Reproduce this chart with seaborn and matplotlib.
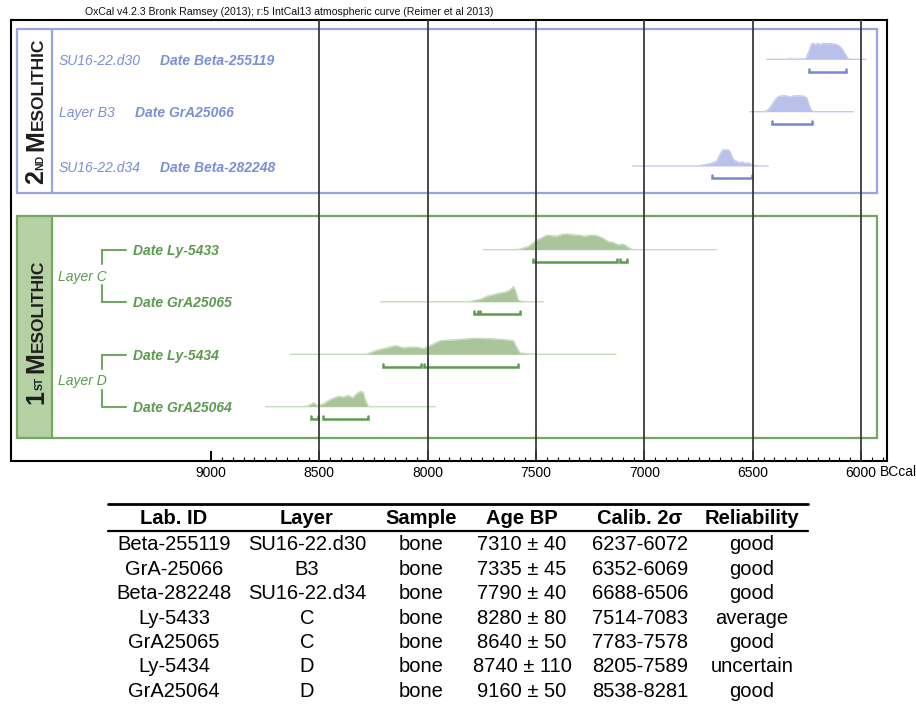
import numpy as np
import pandas as pd
import matplotlib
matplotlib.use("Agg")
import matplotlib.pyplot as plt
import seaborn as sns
from matplotlib.patches import Rectangle
from matplotlib.ticker import FixedLocator

sns.set_theme(style="white")
plt.rcParams['font.family'] = ['Liberation Sans', 'DejaVu Sans']

# ---------------- data ----------------
header_text = "OxCal v4.2.3 Bronk Ramsey (2013); r:5 IntCal13 atmospheric curve (Reimer et al 2013)"
date_labels = ["Date Beta-255119", "Date GrA25066", "Date Beta-282248",
               "Date Ly-5433", "Date GrA25065", "Date Ly-5434", "Date GrA25064"]
context_labels = ["SU16-22.d30", "Layer B3", "SU16-22.d34"]
layer_groups = ["Layer C", "Layer D"]
phase_of_row = ["2nd", "2nd", "2nd", "1st", "1st", "1st", "1st"]

# probability distributions (year BC, relative density)
yrs_beta255119 = [6435, 6335, 6327, 6318, 6255, 6240, 6228, 6220, 6212, 6198, 6190, 6175, 6160, 6140, 6115, 6097, 6083, 6070, 6060, 6050, 5977]
den_beta255119 = [0, 0, 0.06, 0, 0.03, 0.5, 0.95, 1.0, 0.9, 1.0, 0.9, 1.0, 0.97, 0.98, 0.92, 0.8, 0.55, 0.25, 0.05, 0, 0]
yrs_gra25066 = [6512, 6450, 6435, 6420, 6405, 6390, 6375, 6350, 6335, 6327, 6315, 6290, 6265, 6250, 6240, 6228, 6215, 6035]
den_gra25066 = [0, 0, 0.05, 0.25, 0.55, 0.85, 0.97, 1.0, 0.95, 0.9, 0.97, 1.0, 0.97, 0.85, 0.4, 0.05, 0, 0]
yrs_beta282248 = [7055, 6760, 6743, 6693, 6666, 6650, 6638, 6615, 6604, 6592, 6578, 6560, 6545, 6535, 6522, 6506, 6485, 6470, 6428]
den_beta282248 = [0, 0, 0.02, 0.15, 0.3, 0.75, 1.0, 1.0, 0.9, 0.45, 0.3, 0.2, 0.25, 0.15, 0.2, 0.08, 0.02, 0, 0]
yrs_ly5433 = [7745, 7600, 7581, 7535, 7496, 7450, 7430, 7404, 7380, 7357, 7330, 7311, 7273, 7250, 7235, 7212, 7189, 7166, 7143, 7119, 7096, 7081, 7058, 7040, 6666]
den_ly5433 = [0, 0, 0.02, 0.2, 0.6, 0.9, 0.88, 0.85, 0.95, 1.0, 0.93, 0.92, 0.85, 0.9, 0.9, 0.85, 0.7, 0.5, 0.45, 0.3, 0.35, 0.2, 0.02, 0, 0]
yrs_gra25065 = [8219, 7820, 7803, 7757, 7726, 7696, 7665, 7642, 7619, 7603, 7591, 7581, 7565, 7550, 7465]
den_gra25065 = [0, 0, 0.02, 0.15, 0.35, 0.45, 0.55, 0.6, 0.75, 0.95, 0.55, 0.1, 0.02, 0, 0]
yrs_ly5434 = [8634, 8300, 8280, 8234, 8188, 8149, 8111, 8080, 8049, 8019, 7988, 7942, 7881, 7788, 7696, 7634, 7604, 7588, 7573, 7526, 7500, 7131]
den_ly5434 = [0, 0, 0.02, 0.25, 0.4, 0.55, 0.4, 0.45, 0.45, 0.35, 0.55, 0.85, 0.9, 1.0, 0.97, 0.9, 0.85, 0.4, 0.08, 0.02, 0, 0]
yrs_gra25064 = [8749, 8575, 8557, 8526, 8509, 8486, 8449, 8412, 8389, 8366, 8347, 8324, 8310, 8297, 8288, 8274, 8260, 7965]
den_gra25064 = [0, 0, 0.02, 0.25, 0.05, 0.15, 0.45, 0.65, 0.6, 0.7, 0.55, 0.85, 0.95, 0.9, 0.4, 0.03, 0, 0]

# 95.4% ranges (year BC from, to)
ranges_beta255119 = [(6240, 6069)]
ranges_gra25066 = [(6410, 6227)]
ranges_beta282248 = [(6689, 6504)]
ranges_ly5433 = [(7514, 7125), (7112, 7081)]
ranges_gra25065 = [(7784, 7768), (7757, 7573)]
ranges_ly5434 = [(8205, 8031), (8019, 7585)]
ranges_gra25064 = [(8537, 8506), (8485, 8277)]

tick_years = [9000, 8500, 8000, 7500, 7000, 6500, 6000]
tick_labels = ["9000", "8500", "8000", "7500", "7000", "6500", "6000"]
grid_years = [8500, 8000, 7500, 7000, 6500, 6000]
axis_unit = "BCcal"

table_cols = ["Lab. ID", "Layer", "Sample", "Age BP", "Calib. 2σ", "Reliability"]
lab_ids = ["Beta-255119", "GrA-25066", "Beta-282248", "Ly-5433", "GrA25065", "Ly-5434", "GrA25064"]
layers = ["SU16-22.d30", "B3", "SU16-22.d34", "C", "C", "D", "D"]
sample_types = ["bone", "bone", "bone", "bone", "bone", "bone", "bone"]
ages_bp = ["7310 ± 40", "7335 ± 45", "7790 ± 40", "8280 ± 80", "8640 ± 50", "8740 ± 110", "9160 ± 50"]
calib_2s = ["6237-6072", "6352-6069", "6688-6506", "7514-7083", "7783-7578", "8205-7589", "8538-8281"]
reliability = ["good", "good", "good", "average", "good", "uncertain", "good"]

dist_years = [yrs_beta255119, yrs_gra25066, yrs_beta282248, yrs_ly5433, yrs_gra25065, yrs_ly5434, yrs_gra25064]
dist_dens = [den_beta255119, den_gra25066, den_beta282248, den_ly5433, den_gra25065, den_ly5434, den_gra25064]
dist_ranges = [ranges_beta255119, ranges_gra25066, ranges_beta282248, ranges_ly5433, ranges_gra25065, ranges_ly5434, ranges_gra25064]

# ---------------- style ----------------
COL = {
    "2nd": dict(text="#7b8ed8", border="#97a5e2", fill="#b9c1eb", line="#c3caee", bracket="#7588d4"),
    "1st": dict(text="#5c9a4e", border="#73a763", fill="#aac59c", line="#c6dcbc", bracket="#5e9a50"),
}
GREEN_SIDE = "#b5d0a3"

W, H = 916, 712
fig = plt.figure(figsize=(W / 100, H / 100), dpi=100)
fig.patch.set_facecolor("white")

ov = fig.add_axes([0, 0, 1, 1])
ov.set_xlim(0, W)
ov.set_ylim(H, 0)
ov.axis("off")
ov.set_zorder(0)

FR_L, FR_R, FR_T, FR_B = 11, 887, 19.5, 460.7
ax = fig.add_axes([FR_L / W, 1 - FR_B / H, (FR_R - FR_L) / W, (FR_B - FR_T) / H])
ax.set_zorder(1)
ax.patch.set_alpha(0)
PX_PER_YR = 650 / 3000
ax.set_xlim(6000 + (861 - FR_L) / PX_PER_YR, 6000 + (861 - FR_R) / PX_PER_YR)
ax.set_ylim(FR_B, FR_T)

row_base = [59.3, 111.7, 166.0, 249.7, 301.8, 354.3, 406.7]
DEN_H = 16.0
BR_OFF = 12.3

# distributions
frames = []
for i, (yrs, den) in enumerate(zip(dist_years, dist_dens)):
    c = COL[phase_of_row[i]]
    yrs = np.asarray(yrs, float)
    top = row_base[i] - np.asarray(den, float) * DEN_H
    ax.fill_between(yrs, row_base[i], top, color=c["fill"], lw=0, zorder=2)
    frames.append(pd.DataFrame({"year": yrs, "y": top, "row": date_labels[i]}))
df = pd.concat(frames, ignore_index=True)
pal = {date_labels[i]: COL[phase_of_row[i]]["line"] for i in range(len(date_labels))}
sns.lineplot(data=df, x="year", y="y", hue="row", palette=pal, estimator=None,
             sort=False, legend=False, ax=ax, lw=1.0, zorder=2.5)

# brackets
for i, rngs in enumerate(dist_ranges):
    c = COL[phase_of_row[i]]
    yb = row_base[i] + BR_OFF
    for a, b in rngs:
        ax.plot([a, a, b, b], [yb - 3, yb, yb, yb - 3], color=c["bracket"], lw=1.8,
                solid_joinstyle="miter", zorder=3)

# gridlines
for g in grid_years:
    ax.axvline(g, color="#3a3a3a", lw=1.3, zorder=4)

# axis frame and ticks
for s in ax.spines.values():
    s.set_visible(True)
    s.set_color("black")
    s.set_linewidth(1.5)
ax.set_yticks([])
ax.set_xticks(tick_years)
ax.set_xticklabels(tick_labels)
minor = [y for y in np.arange(9000, 5899, -50) if y not in tick_years]
ax.xaxis.set_minor_locator(FixedLocator(minor))
ax.tick_params(axis="x", which="major", direction="in", length=7.2, width=1.4,
               colors="black", labelsize=10, pad=3.6, bottom=True, top=False)
ax.tick_params(axis="x", which="minor", direction="in", length=3, width=0.8,
               colors="black", bottom=True, top=False)
ax.set_xlabel("")
ax.set_ylabel("")
ov.text(879.5, 471.7, axis_unit, ha="left", va="center", fontsize=10, color="black")

# header
ov.text(85, 12.0, header_text, ha="left", va="center", fontsize=7.6, color="#111111")

# panels
PL, PR = 17.3, 876.7
SIDE_R = 52.3
panels = {"2nd": (29.3, 192.7), "1st": (215.7, 437.5)}
for ph, (t, b) in panels.items():
    c = COL[ph]
    if ph == "1st":
        ov.add_patch(Rectangle((PL, t), SIDE_R - PL, b - t, fc=GREEN_SIDE, ec="none", zorder=1))
    ov.add_patch(Rectangle((PL, t), PR - PL, b - t, fill=False, ec=c["border"], lw=1.6, zorder=2))
    ov.plot([SIDE_R, SIDE_R], [t, b], color=c["border"], lw=1.6, zorder=2)

# row labels
for i in range(3):
    c = COL["2nd"]
    ov.text(59, row_base[i] + 1.5, context_labels[i], ha="left", va="center",
            fontsize=10, style="italic", color=c["text"])
    xd = 135 if context_labels[i].startswith("Layer") else 160
    ov.text(xd, row_base[i] + 1.5, date_labels[i], ha="left", va="center",
            fontsize=10, style="italic", fontweight="bold", color=c["text"])
for i in range(3, 7):
    c = COL["1st"]
    ov.text(133, row_base[i] + 1.5, date_labels[i], ha="left", va="center",
            fontsize=10, style="italic", fontweight="bold", color=c["text"])
for k, lab in enumerate(layer_groups):
    c = COL["1st"]
    y1 = row_base[3 + 2 * k] + 0.5
    y2 = row_base[4 + 2 * k] + 0.5
    mid = (y1 + y2) / 2
    ov.text(58, mid + 0.5, lab, ha="left", va="center", fontsize=10, style="italic", color=c["text"])
    ov.plot([126, 102, 102], [y1, y1, mid - 12], color=c["border"], lw=1.5, solid_joinstyle="miter")
    ov.plot([102, 102, 126], [mid + 9, y2, y2], color=c["border"], lw=1.5, solid_joinstyle="miter")

# vertical phase titles
renderer = fig.canvas.get_renderer()


def vertical_title(x_base, y_center, pieces):
    texts, lens = [], []
    for s, size, gap in pieces:
        t = ov.text(0, 0, s, fontsize=size, fontweight="bold", rotation=90,
                    rotation_mode="anchor", ha="left", va="baseline", color="#1e1e1e", zorder=5)
        bb = t.get_window_extent(renderer)
        texts.append(t)
        lens.append(bb.height + gap)
    total = sum(lens)
    y = y_center + total / 2
    for t, L in zip(texts, lens):
        t.set_position((x_base, y))
        y -= L


vertical_title(43, (29.3 + 192.7) / 2, [("2", 18, 0), ("ND", 7.5, 4), ("M", 18, 0), ("ESOLITHIC", 12.5, 0)])
vertical_title(43, (215.7 + 437.5) / 2 + 5, [("1", 18, 0), ("ST", 7.5, 4), ("M", 18, 0), ("ESOLITHIC", 12.5, 0)])

# table
col_x = [174, 307, 421, 522, 640, 752]
ov.plot([108, 808], [504, 504], color="black", lw=2.0)
ov.plot([108, 808], [531, 531], color="black", lw=1.6)
for cx, name in zip(col_x, table_cols):
    ov.text(cx, 518, name, ha="center", va="center", fontsize=14.5, fontweight="bold", color="black")
rows = list(zip(lab_ids, layers, sample_types, ages_bp, calib_2s, reliability))
for r, vals in enumerate(rows):
    y = 545 + 24.4 * r
    for cx, v in zip(col_x, vals):
        ov.text(cx, y, v, ha="center", va="center", fontsize=14.5, color="black")

fig.savefig("out.png", dpi=100, facecolor="white")
